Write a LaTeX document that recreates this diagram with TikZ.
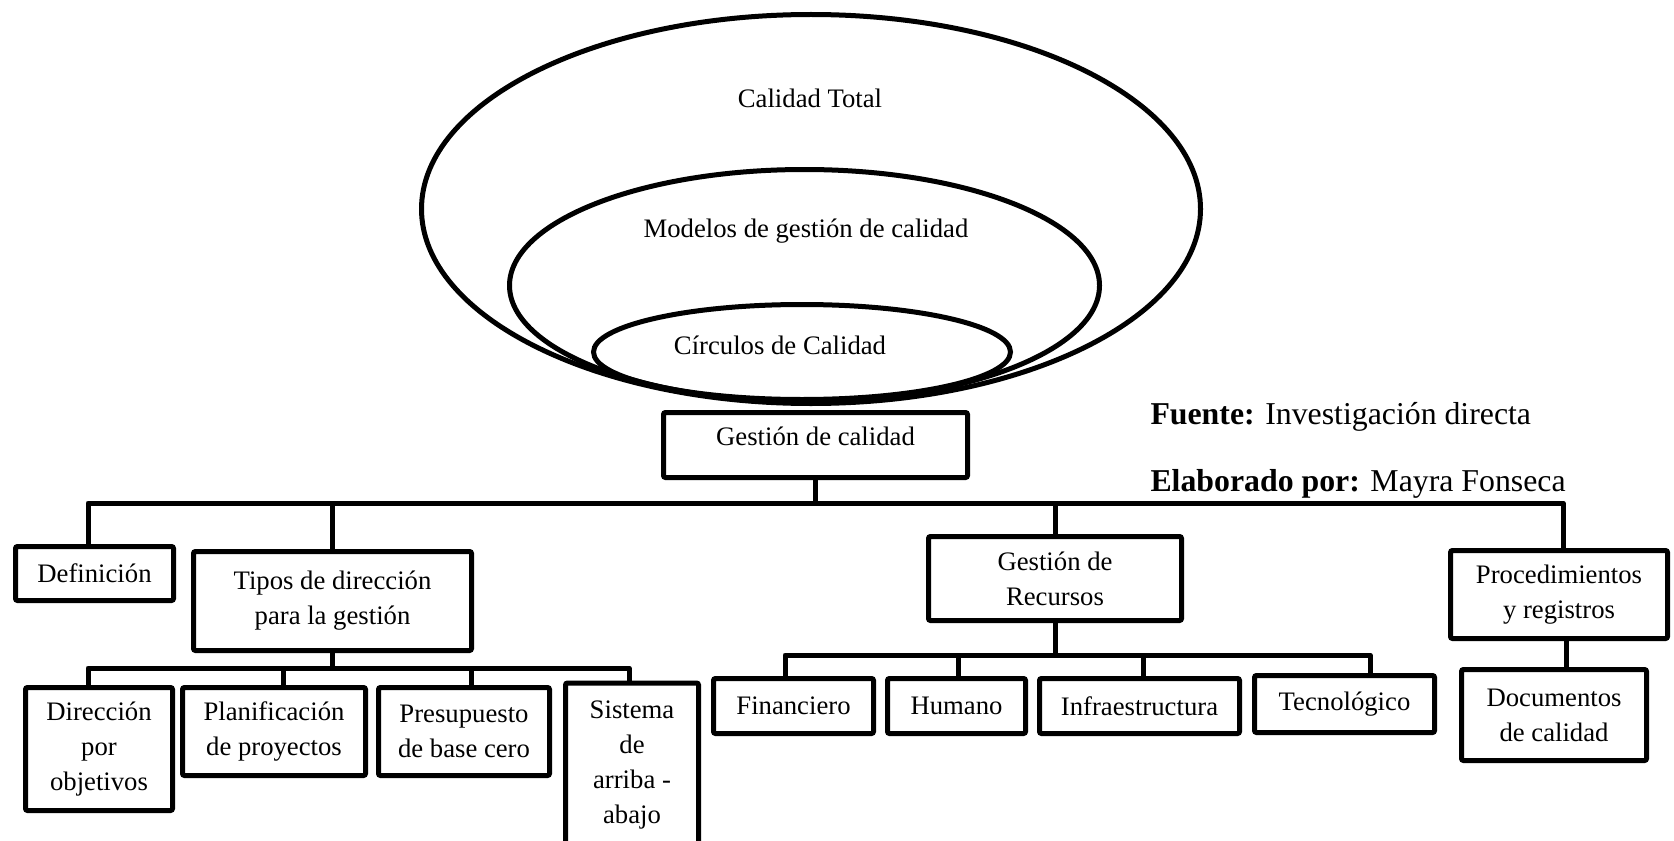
\documentclass[tikz,border=0pt]{standalone}
\usepackage{fontspec}
\setmainfont{Liberation Serif}
\begin{document}
\begin{tikzpicture}[x=0.5pt,y=-0.5pt,
  line width=2.5pt,
  box/.style={draw, rectangle, rounded corners=1pt, inner sep=0pt, align=center,
    font=\fontsize{13.35}{17.5}\selectfont},
  txt/.style={inner sep=0pt, font=\fontsize{13.35}{17.5}\selectfont},
  note/.style={inner sep=0pt, anchor=west, font=\fontsize{15.9}{19}\selectfont},
  link/.style={draw, line width=2.5pt}]
\useasboundingbox (0,0) rectangle (1674,840);
\clip (0,0) rectangle (1674,840);

% nested quality ellipses
\draw (811,209) ellipse [x radius=194.75pt, y radius=97.25pt];
\draw (804.5,285.5) ellipse [x radius=147.5pt, y radius=58pt];
\draw (802,352) ellipse [x radius=104.25pt, y radius=23.75pt];
\node[txt] (ct) at (810,98) {Calidad Total};
\node[txt] (mg) at (806,231) {Modelos de gestión de calidad};
\node[txt] (cc) at (780,345) {Círculos de Calidad};

% source notes
\node[note] (fuente) at (1148,417) {\textbf{Fuente:} Investigación directa};
\node[note] (elab) at (1148,484) {\textbf{Elaborado por:} Mayra Fonseca};

% root (text sits in the upper part of the box)
\node[box, minimum width=152pt, minimum height=32.5pt, text depth=9pt] (gc) at (815.5,445) {Gestión de calidad};

% first level
\node[box, minimum width=79pt, minimum height=27pt] (def) at (94.5,573.5) {Definición};
\node[box, minimum width=139pt, minimum height=49.5pt] (tipos) at (332.5,601) {Tipos de dirección\\para la gestión};
\node[box, minimum width=126.5pt, minimum height=42pt] (rec) at (1055,578.5) {Gestión de\\Recursos};
\node[box, minimum width=108.5pt, minimum height=44pt] (proc) at (1559,594.5) {Procedimientos\\y registros};

% second level under Tipos
\node[box, minimum width=73.5pt, minimum height=61.5pt] (dir) at (99,749) {Dirección\\por\\objetivos};
\node[box, minimum width=91.5pt, minimum height=44pt] (plan) at (274,731.5) {Planificación\\de proyectos};
\node[box, minimum width=85.5pt, minimum height=44pt] (pres) at (464,731.5) {Presupuesto\\de base cero};
\node[box, minimum width=66.5pt, minimum height=82pt] (sis) at (632,765) {Sistema\\de\\arriba -\\abajo};

% second level under Recursos
\node[box, minimum width=80pt, minimum height=27.5pt] (fin) at (793.5,706) {Financiero};
\node[box, minimum width=69pt, minimum height=27.5pt] (hum) at (956.5,706) {Humano};
\node[box, minimum width=100pt, minimum height=27.5pt] (inf) at (1139.5,706) {Infraestructura};
\node[box, minimum width=90pt, minimum height=28.5pt] (tec) at (1344.5,704) {Tecnológico};

% under Procedimientos
\node[box, minimum width=92.5pt, minimum height=45.5pt] (doc) at (1554,715) {Documentos\\de calidad};

% main bus
\coordinate (busL) at (88,503);
\coordinate (busR) at (1563,503);
\draw[link] (gc.south) -- (gc.south |- busL);
\draw[link, line join=round] (busL |- def.north) -- (busL) -- (busR) -- (busR |- proc.north);
\draw[link] (tipos.north |- busL) -- (tipos.north);
\draw[link] (rec.north |- busL) -- (rec.north);

% bus under Tipos
\coordinate (t1) at (88,668);
\coordinate (t2) at (283,668);
\coordinate (t3) at (471,668);
\coordinate (t4) at (629,668);
\draw[link] (tipos.south) -- (tipos.south |- t1);
\draw[link, line join=round] (t1 |- dir.north) -- (t1) -- (t4) -- (t4 |- sis.north);
\draw[link] (t2) -- (t2 |- plan.north);
\draw[link] (t3) -- (t3 |- pres.north);

% bus under Recursos
\coordinate (r1) at (785,655);
\coordinate (r2) at (958,655);
\coordinate (r3) at (1143,655);
\coordinate (r4) at (1370,655);
\draw[link] (rec.south) -- (rec.south |- r1);
\draw[link, line join=round] (r1 |- fin.north) -- (r1) -- (r4) -- (r4 |- tec.north);
\draw[link] (r2) -- (r2 |- hum.north);
\draw[link] (r3) -- (r3 |- inf.north);

% Procedimientos to Documentos
\coordinate (p1) at (1566,641);
\draw[link] (p1) -- (p1 |- doc.north);
\end{tikzpicture}
\end{document}
